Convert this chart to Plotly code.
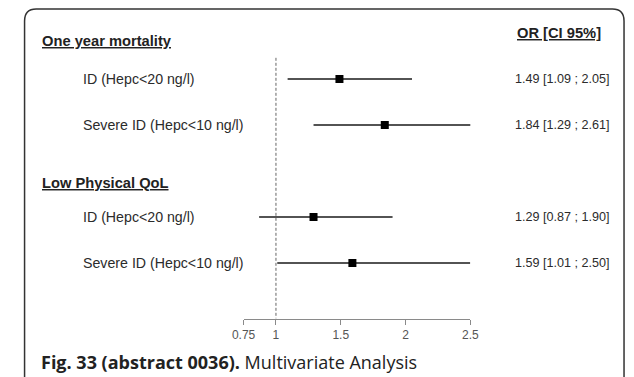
import plotly.graph_objects as go

W, H = 634, 377

groups = ["One year mortality", "Low Physical QoL"]
labels = ["ID (Hepc<20 ng/l)", "Severe ID (Hepc<10 ng/l)",
          "ID (Hepc<20 ng/l)", "Severe ID (Hepc<10 ng/l)"]
group_of = [0, 0, 1, 1]
odds = [1.49, 1.84, 1.29, 1.59]
lower = [1.09, 1.29, 0.87, 1.01]
upper = [2.05, 2.61, 1.90, 2.50]
tick_vals = [0.75, 1, 1.5, 2, 2.5]
tick_text = ["0.75", "1", "1.5", "2", "2.5"]

slots = []
cnt = {}
for g in group_of:
    cnt[g] = cnt.get(g, 0) + 1
    slots.append(g * 3 + cnt[g])

def px(x):
    return x / W

def py(y):
    return 1 - y / H

fig = go.Figure()

for i in range(len(odds)):
    fig.add_trace(go.Scatter(
        x=[lower[i], upper[i]], y=[slots[i], slots[i]], mode="lines",
        line=dict(color="#1a1a1a", width=1.6), hoverinfo="skip", showlegend=False))

fig.add_trace(go.Scatter(
    x=odds, y=slots, mode="markers",
    marker=dict(symbol="square", size=8, color="#000000"),
    showlegend=False))

fig.add_shape(type="line", xref="x", yref="y", x0=1, x1=1, y0=0.54, y1=6.21,
              line=dict(color="#666666", width=1, dash="3px,2px"))

annotations = []
lab_font = dict(family="Liberation Sans, Arial", size=14.2, color="#2b2b2b")
val_font = dict(family="Liberation Sans, Arial", size=12.6, color="#2b2b2b")
for i in range(len(odds)):
    annotations.append(dict(xref="paper", yref="y", x=px(71), y=slots[i],
                            text=labels[i], showarrow=False, xanchor="left",
                            yanchor="middle", font=lab_font))
    annotations.append(dict(xref="paper", yref="y", x=px(621), y=slots[i],
                            text=f"{odds[i]:.2f} [{lower[i]:.2f} ; {upper[i]:.2f}]",
                            showarrow=False, xanchor="right", yanchor="middle",
                            font=val_font))

hdr_font = dict(family="Liberation Sans, Arial", size=14.7, color="#222222")
hdr_y = [41, 183]
for g, name in enumerate(groups):
    annotations.append(dict(xref="paper", yref="paper", x=px(29), y=py(hdr_y[g]),
                            text=f"<b><u>{name}</u></b>", showarrow=False,
                            xanchor="left", yanchor="middle", font=hdr_font))
annotations.append(dict(xref="paper", yref="paper", x=px(611), y=py(33),
                        text="<b><u>OR [CI 95%]</u></b>", showarrow=False,
                        xanchor="right", yanchor="middle", font=hdr_font))

annotations.append(dict(xref="paper", yref="paper", x=px(28), y=py(362),
                        text="<b>Fig. 33 (abstract 0036).</b> Multivariate Analysis",
                        showarrow=False, xanchor="left", yanchor="middle",
                        font=dict(family="Open Sans", size=18, color="#222222")))

x0, x1, y0, yb = px(13), px(633), py(9), py(378)
rx, ry = 12 / W, 12 / H
path = (f"M {x0},{yb} L {x0},{y0 - ry} Q {x0},{y0} {x0 + rx},{y0} "
        f"L {x1 - rx},{y0} Q {x1},{y0} {x1},{y0 - ry} L {x1},{yb}")
fig.add_shape(type="path", xref="paper", yref="paper", path=path,
              line=dict(color="#333333", width=1.5))

fig.update_layout(
    width=W, height=H, margin=dict(l=0, r=0, t=0, b=0),
    paper_bgcolor="white", plot_bgcolor="white",
    annotations=annotations,
    xaxis=dict(domain=[px(239.5), px(474)], range=[0.75, 2.5],
               tickvals=tick_vals, ticktext=tick_text,
               showline=True, linecolor="#8a8a8a", linewidth=1,
               ticks="outside", ticklen=5, tickcolor="#8a8a8a", tickwidth=1,
               showgrid=False, zeroline=False,
               tickfont=dict(family="Liberation Sans, Arial", size=12, color="#555555")),
    yaxis=dict(domain=[(H - 318.5) / H, 1], range=[6.207, -0.717],
               visible=False, showgrid=False, zeroline=False),
)

fig.write_html("out.html", config={"responsive": False, "displayModeBar": False},
               post_script="document.body.style.margin='0';"
                           "document.body.style.overflow='hidden';")
